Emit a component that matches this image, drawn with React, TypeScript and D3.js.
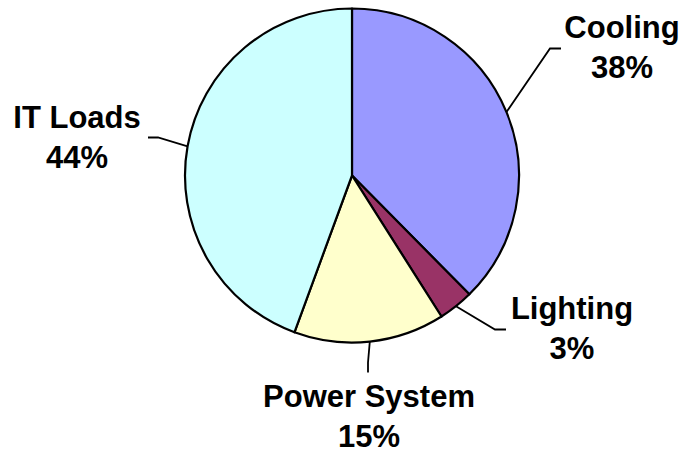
import React, { useEffect, useRef } from "react";
import * as d3 from "d3";

// slice data (percent of energy use, labels show rounded values)
const categories = ["Cooling", "Lighting", "Power System", "IT Loads"];
const values = [37.6, 3.4, 14.6, 44.4];
const colors = ["#9999FF", "#993366", "#FFFFCC", "#CCFFFF"];

// label layout: label anchor + leader elbow/end, relative to pie centre
const labelLayout = [
  { lx: 270, ly: -138, ex: 198, ey: -127, tx: 209, ty: -127 },
  { lx: 220, ly: 143, ex: 143, ey: 154, tx: 154, ty: 154 },
  { lx: 17, ly: 231, ex: 16, ey: 187, tx: 16, ty: 197 },
  { lx: -275, ly: -48, ex: -194, ey: -38, tx: -204, ty: -38 },
];

const App = () => {
  const svgRef = useRef<SVGSVGElement>(null);
  const width = 685;
  const height = 452;

  useEffect(() => {
    const svg = d3.select(svgRef.current);
    svg.selectAll("*").remove();

    const cx = 352;
    const cy = 175.5;
    const r = 167;

    const data = categories.map((c, i) => ({ name: c, value: values[i], color: colors[i] }));

    const pie = d3
      .pie<any>()
      .sort(null)
      .value((d) => d.value);
    const arcs = pie(data);

    const arc = d3.arc<any>().innerRadius(0).outerRadius(r);
    const edge = d3.arc<any>().innerRadius(r).outerRadius(r);

    const g = svg.append("g").attr("transform", `translate(${cx},${cy})`);

    g.selectAll("path.slice")
      .data(arcs)
      .enter()
      .append("path")
      .attr("class", "slice")
      .attr("d", arc)
      .attr("fill", (d) => d.data.color)
      .attr("stroke", "#000")
      .attr("stroke-width", 2.2)
      .attr("stroke-linejoin", "round");

    // leader lines
    g.selectAll("path.leader")
      .data(arcs)
      .enter()
      .append("path")
      .attr("class", "leader")
      .attr("fill", "none")
      .attr("stroke", "#000")
      .attr("stroke-width", 1.8)
      .attr("d", (d, i) => {
        const [sx, sy] = edge.centroid(d);
        const l = labelLayout[i];
        return d3.line()([
          [sx, sy],
          [l.ex, l.ey],
          [l.tx, l.ty],
        ]);
      });

    // labels
    const labels = g
      .selectAll("text.label")
      .data(arcs)
      .enter()
      .append("text")
      .attr("class", "label")
      .attr("text-anchor", "middle")
      .style("font-family", "'Liberation Sans', Arial, sans-serif")
      .style("font-weight", "bold")
      .style("font-size", "31px")
      .attr("fill", "#000");

    labels
      .append("tspan")
      .attr("x", (d, i) => labelLayout[i].lx)
      .attr("y", (d, i) => labelLayout[i].ly)
      .text((d) => d.data.name);

    labels
      .append("tspan")
      .attr("x", (d, i) => labelLayout[i].lx)
      .attr("dy", 40)
      .text((d) => `${Math.round(d.data.value)}%`);
  }, []);

  return (
    <div style={{ position: "fixed", left: 0, top: 0, background: "#fff" }}>
      <svg ref={svgRef} width={width} height={height} />
    </div>
  );
};

export default App;
